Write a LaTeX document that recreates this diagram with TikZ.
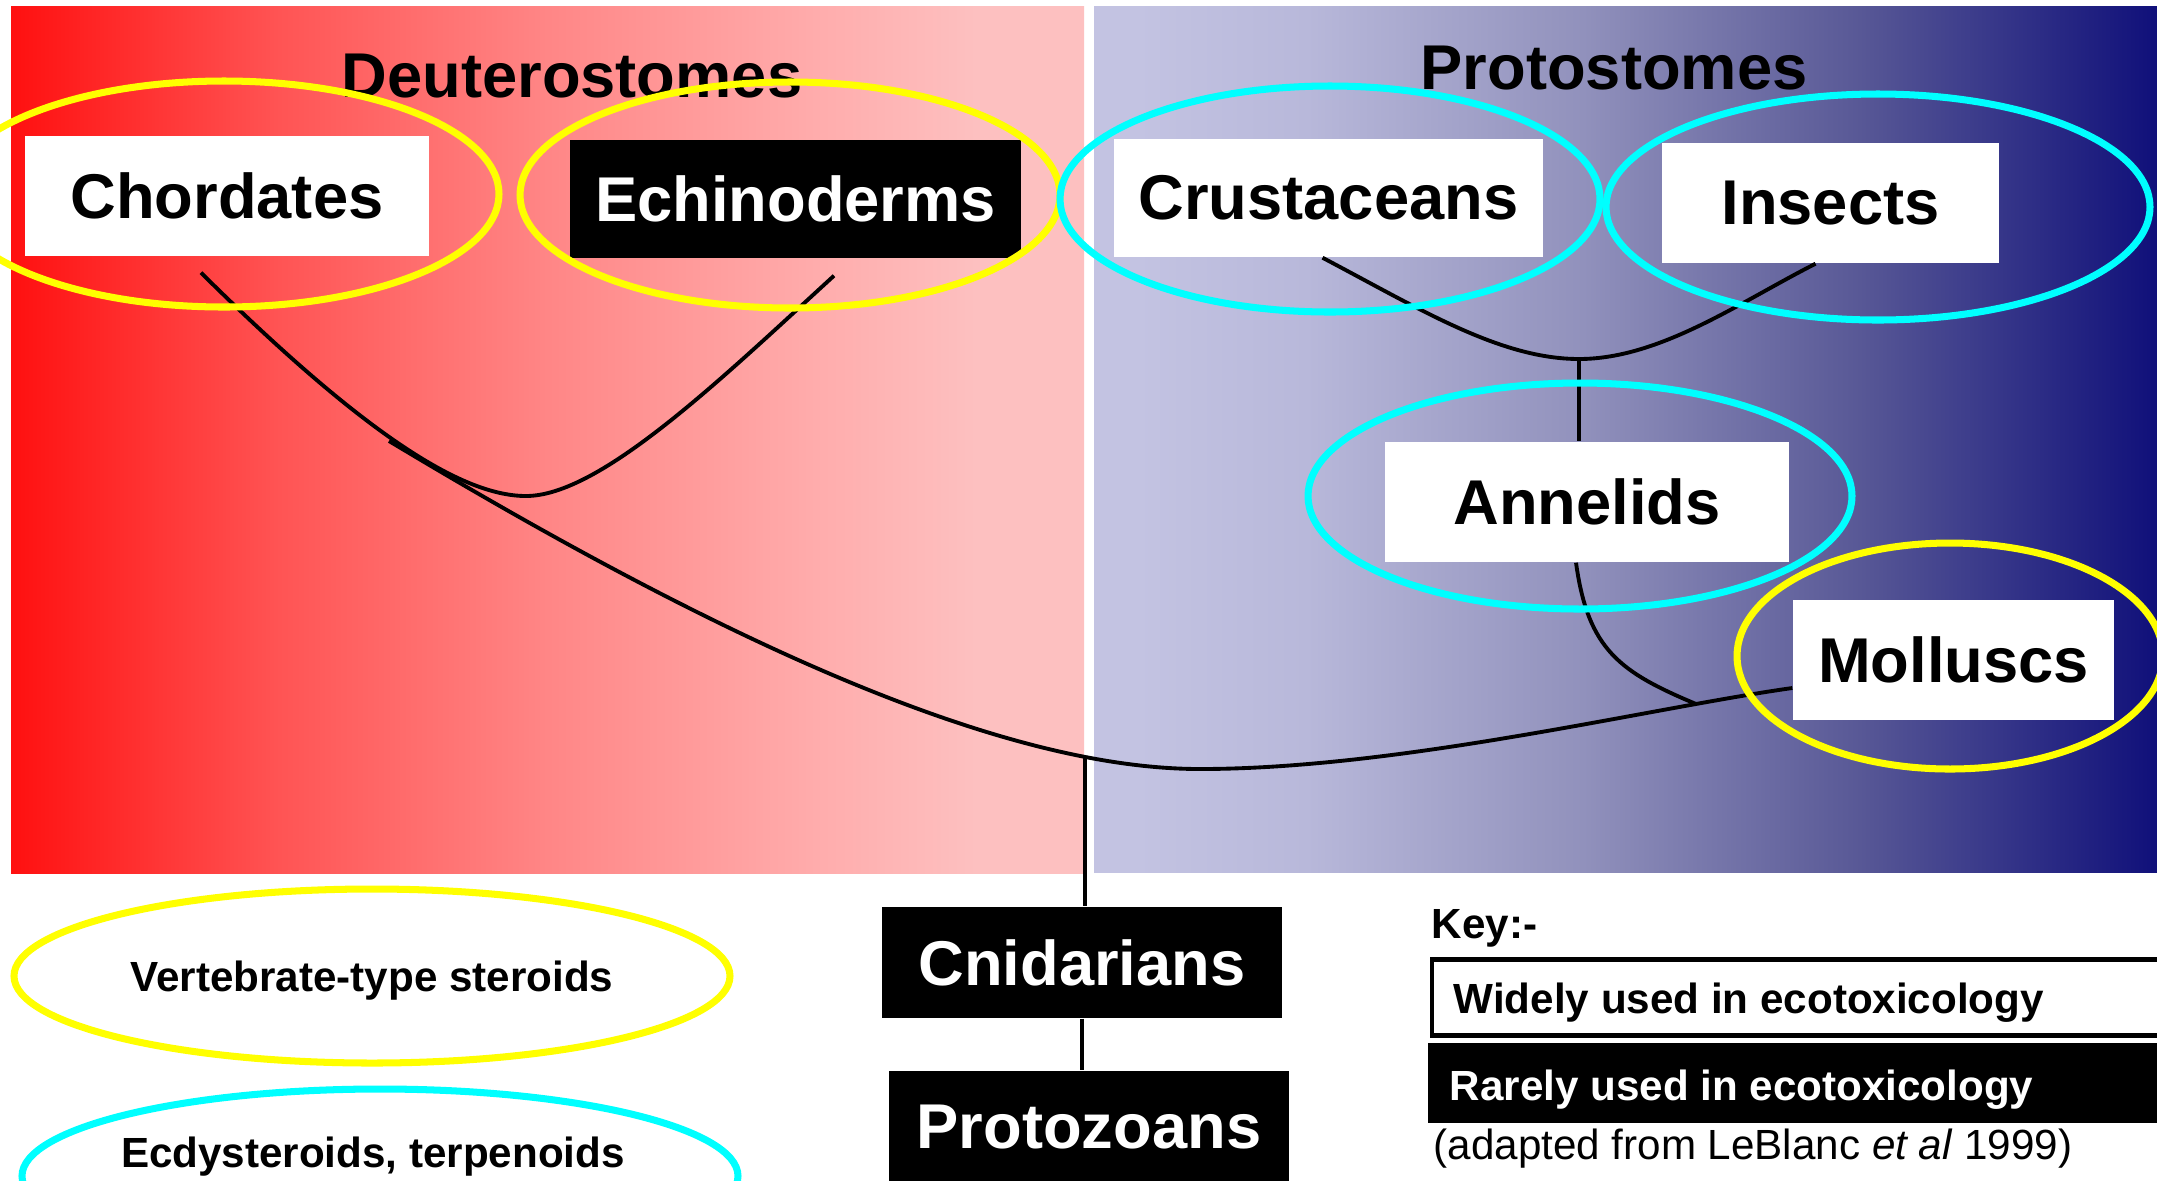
\documentclass[tikz,border=0pt]{standalone}
\usepackage{fontspec}
\setmainfont{Liberation Sans}
\usetikzlibrary{shapes.geometric}

\definecolor{ringyellow}{RGB}{255,255,0}
\definecolor{ringcyan}{RGB}{0,255,255}
\definecolor{deutred}{RGB}{255,16,16}
\definecolor{deutsoft}{RGB}{255,84,84}
\definecolor{deutmid}{RGB}{255,134,134}
\definecolor{deutlight}{RGB}{255,172,172}
\definecolor{deutpink}{RGB}{253,192,192}
\definecolor{protlight}{RGB}{195,195,226}
\definecolor{protsoft}{RGB}{184,184,218}
\definecolor{protmid}{RGB}{145,145,188}
\definecolor{protdark}{RGB}{88,88,150}
\definecolor{protnavy}{RGB}{16,16,122}

\pgfdeclarehorizontalshading{deutshade}{100bp}{color(0bp)=(deutred); color(25bp)=(deutred);
  color(37.5bp)=(deutsoft); color(50bp)=(deutmid); color(62.5bp)=(deutlight);
  color(70bp)=(deutpink); color(100bp)=(deutpink)}
\pgfdeclarehorizontalshading{protshade}{100bp}{color(0bp)=(protlight); color(27bp)=(protlight);
  color(35bp)=(protsoft); color(48bp)=(protmid); color(61bp)=(protdark);
  color(75bp)=(protnavy); color(100bp)=(protnavy)}

\tikzset{
  taxon/.style={rectangle, inner sep=0pt, font=\fontsize{18}{21}\selectfont\bfseries},
  widely/.style={taxon, fill=white},
  rarely/.style={taxon, fill=black, text=white},
  ring/.style={ellipse, inner sep=0pt, line width=2pt},
  branch/.style={line width=1.1pt},
  keytext/.style={font=\fontsize{12}{14}\selectfont\bfseries, inner sep=0pt},
}

\begin{document}
\begin{tikzpicture}[y=-1cm]
\useasboundingbox (0,0) rectangle (21.57,11.80);
\fill[white] (0,0) rectangle (21.57,11.80);
% the two groups
\shade[shading=deutshade] (0.11,0.06) rectangle (10.84,8.73);
\shade[shading=protshade] (10.94,0.06) rectangle (21.57,8.72);
\node[taxon, anchor=base] (deut) at (5.72,0.97) {Deuterostomes};
\node[taxon, anchor=base] (prot) at (16.14,0.89) {Protostomes};

% taxa
\node[widely, minimum width=4.04cm, minimum height=1.20cm] (chord) at (2.27,1.96) {Chordates};
\node[rarely, minimum width=4.51cm, minimum height=1.18cm] (echino) at (7.955,1.99) {Echinoderms};
\node[widely, minimum width=4.29cm, minimum height=1.18cm] (crust) at (13.285,1.98) {Crustaceans};
\node[widely, minimum width=3.37cm, minimum height=1.20cm] (insect) at (18.305,2.03) {Insects};
\node[widely, minimum width=4.04cm, minimum height=1.20cm] (annel) at (15.87,5.02) {Annelids};
\node[widely, minimum width=3.21cm, minimum height=1.20cm] (mollusc) at (19.535,6.60) {Molluscs};
\node[rarely, minimum width=4.00cm, minimum height=1.11cm] (cnid) at (10.82,9.625) {Cnidarians};
\node[rarely, minimum width=4.00cm, minimum height=1.12cm] (protozo) at (10.89,11.27) {Protozoans};

% tree
\coordinate (deutjoin) at (3.89,4.41);
\coordinate (deutlow) at (5.26,4.96);
\coordinate (root) at (10.85,7.58);
\coordinate (rootlow) at (12.00,7.69);
\coordinate (protjoin) at (16.96,7.04);
\coordinate (arthlow) at (15.79,3.59);
\draw[branch] ([xshift=-2.6mm,yshift=-1.6mm]chord.south) .. controls (3.60,4.30) and (4.60,4.96) .. (deutlow)
  .. controls (6.00,4.96) and (7.20,3.80) .. ([xshift=3.85mm,yshift=-1.7mm]echino.south);
\draw[branch] (deutjoin) .. controls (7.20,6.40) and (10.00,7.69) .. (rootlow)
  .. controls (14.00,7.69) and (16.50,7.08) .. ([yshift=-2.8mm]mollusc.west);
\draw[branch] ([xshift=-1.1mm]annel.south) .. controls (15.88,6.50) and (16.20,6.72) .. (protjoin);
\draw[branch] ([xshift=-0.6mm]crust.south) .. controls (14.20,3.09) and (15.00,3.59) .. (arthlow)
  .. controls (16.60,3.59) and (17.40,3.02) .. ([xshift=-1.5mm]insect.south);
\draw[branch] (arthlow) -- (arthlow |- annel.north);
\draw[branch] (root) -- (root |- cnid.north);
\draw[branch] (cnid.south) -- (cnid.south |- protozo.north);

% hormone groups
\node[ring, draw=ringyellow, minimum width=5.50cm, minimum height=2.26cm] (chordring) at (2.24,1.94) {};
\node[ring, draw=ringyellow, minimum width=5.40cm, minimum height=2.26cm] (echinoring) at (7.90,1.95) {};
\node[ring, draw=ringcyan, minimum width=5.40cm, minimum height=2.26cm] (crustring) at (13.30,1.99) {};
\node[ring, draw=ringcyan, minimum width=5.44cm, minimum height=2.26cm] (insectring) at (18.78,2.07) {};
\node[ring, draw=ringcyan, minimum width=5.44cm, minimum height=2.26cm] (annelring) at (15.80,4.96) {};
\node[ring, draw=ringyellow, minimum width=4.26cm, minimum height=2.26cm] (molluscring) at (19.50,6.56) {};

% legend
\node[ring, draw=ringyellow, minimum width=7.16cm, minimum height=1.74cm, keytext, text height=0.3cm, text depth=0pt] (steroid) at (3.72,9.76) {Vertebrate-type steroids};
\node[ring, draw=ringcyan, minimum width=7.16cm, minimum height=1.74cm] (ecdyring) at (3.80,11.76) {};
\node[keytext, anchor=base] (ecdy) at (3.73,11.67) {Ecdysteroids, terpenoids};
\node[keytext, anchor=base west] (key) at (14.31,9.38) {Key:-};
\node[keytext, draw=black, line width=1.4pt, fill=white, anchor=west, minimum width=7.40cm, minimum height=0.76cm] (widebox) at (14.295,9.975) {};
\node[keytext, anchor=base west] (widetext) at (14.53,10.13) {Widely used in ecotoxicology};
\node[keytext, fill=black, anchor=west, minimum width=7.40cm, minimum height=0.80cm] (rarebox) at (14.27,10.83) {};
\node[keytext, text=white, anchor=base west] (raretext) at (14.49,11.00) {Rarely used in ecotoxicology};
\node[font=\fontsize{12}{14}\selectfont, inner sep=0pt, anchor=base west] (source) at (14.33,11.59) {(adapted from LeBlanc \textit{et al} 1999)};
\end{tikzpicture}
\end{document}
